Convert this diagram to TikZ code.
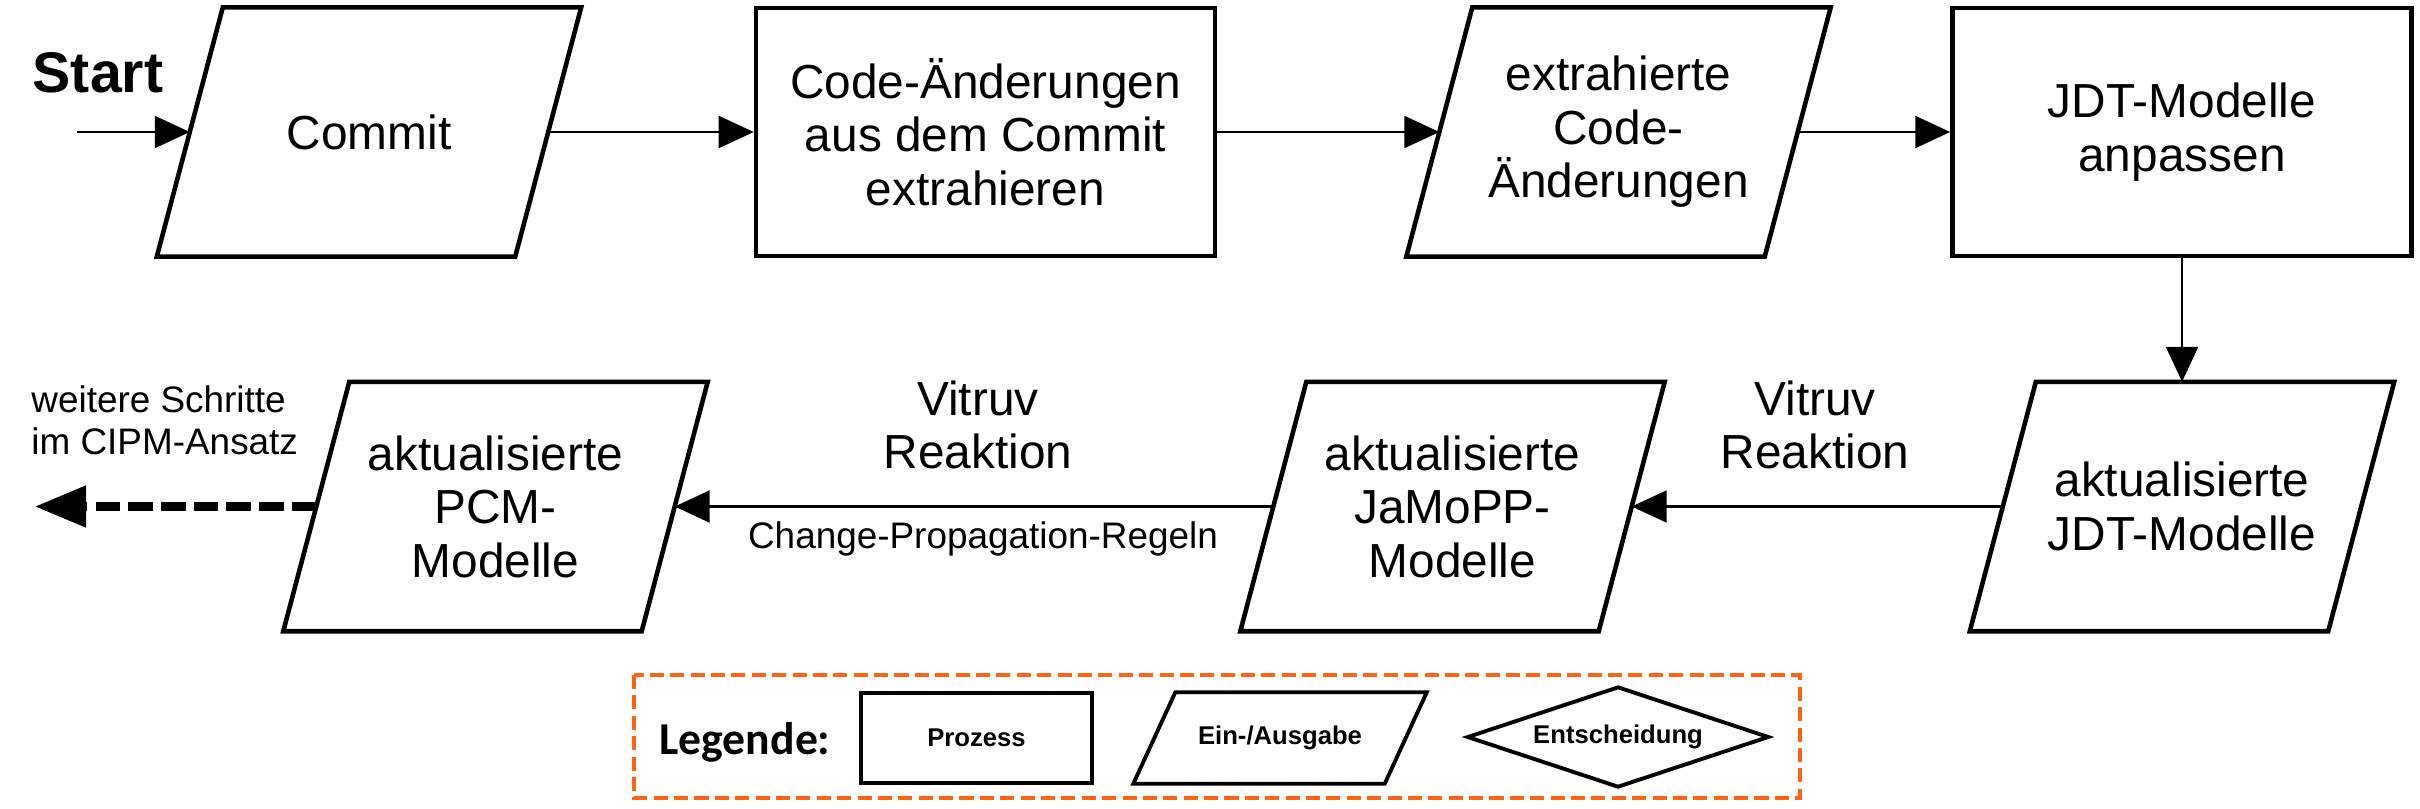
\documentclass[tikz,border=0pt]{standalone}
\usepackage{fontspec}
\setmainfont{Liberation Sans}
\newfontfamily\legfont{Carlito}
\usetikzlibrary{shapes.geometric,arrows.meta}
\definecolor{legorange}{RGB}{255,98,16}

\begin{document}
\begin{tikzpicture}[
    font=\fontsize{13.6}{15.2}\selectfont,
    prozess/.style={draw, line width=1.3pt, minimum width=4.59cm, minimum height=2.48cm, align=center},
    % Parallelogramm um einen Rechteckknoten, #1 = halber Versatz
    schraeg/.style 2 args={append after command={\pgfextra{%
        \draw[line width=#2] ([xshift=-#1]\tikzlastnode.south west) -- ([xshift=#1]\tikzlastnode.north west)
            -- ([xshift=#1]\tikzlastnode.north east) -- ([xshift=-#1]\tikzlastnode.south east) -- cycle;}}},
    daten/.style={minimum width=3.57cm, minimum height=2.48cm, align=center, schraeg={3.3mm}{1.3pt}},
    pfeil/.style={line width=0.6pt, -{Triangle[length=0.35cm,width=0.32cm]}},
    weiterpfeil/.style={line width=2.3pt, dash pattern=on 7pt off 2.3pt, -{Triangle[length=0.51cm,width=0.40cm]}},
    klein/.style={font=\fontsize{10.5}{12}\selectfont},
    legtext/.style={font=\fontsize{7.3}{8}\selectfont\bfseries}
]
\useasboundingbox (0,0) rectangle (24.20,-8.08);

% obere Reihe
\node[font=\fontsize{16.3}{18}\selectfont\bfseries] (start) at (0.98,-0.73) {Start};
\coordinate (eingang) at (0.77,-1.32);
\node[daten] (commit) at (3.69,-1.32) {Commit};
\node[prozess] (extrahieren) at (9.855,-1.32) {Code-Änderungen\\aus dem Commit\\extrahieren};
\node[daten] (aenderungen) at (16.185,-1.32) {extrahierte\\Code-\\Änderungen};
\node[prozess] (anpassen) at (21.82,-1.32) {JDT-Modelle\\anpassen};

% untere Reihe
\node[daten] (jdt) at (21.82,-5.065) {aktualisierte\\JDT-Modelle};
\node[daten] (jamopp) at (14.525,-5.065) {aktualisierte\\JaMoPP-\\Modelle};
\node[daten] (pcm) at (4.955,-5.065) {aktualisierte\\PCM-\\Modelle};
\coordinate (weiterziel) at (0.35,-5.065);

\draw[pfeil] (eingang) -- (commit);
\draw[pfeil] (commit) -- (extrahieren);
\draw[pfeil] (extrahieren) -- (aenderungen);
\draw[pfeil] (aenderungen) -- (anpassen);
\draw[pfeil] (anpassen) -- (jdt);
\draw[pfeil] (jdt) -- (jamopp);
\draw[pfeil] (jamopp) -- (pcm);
\draw[weiterpfeil] (pcm) -- (weiterziel);

\node[align=center] (reaktionA) at (9.78,-4.25) {Vitruv\\Reaktion};
\node[align=center] (reaktionB) at (18.15,-4.25) {Vitruv\\Reaktion};
\node[klein] (regeln) at (9.83,-5.39) {Change-Propagation-Regeln};
\node[klein, align=left, anchor=west] (weiter) at (0.19,-4.20) {weitere Schritte\\im CIPM-Ansatz};

% Legende
\draw[legorange, line width=1.1pt, dash pattern=on 4pt off 1.8pt] (6.34,-6.75) rectangle (18.00,-7.98);
\node[font=\legfont\fontsize{13}{15}\selectfont\bfseries] (legtitel) at (7.45,-7.42) {Legende:};
\node[draw, line width=1.1pt, minimum width=2.31cm, minimum height=0.90cm, legtext] (legprozess) at (9.765,-7.38) {Prozess};
\node[minimum width=2.50cm, minimum height=0.90cm, schraeg={2.1mm}{1.1pt}, legtext] (legdaten) at (12.80,-7.38) {Ein-/Ausgabe};
\node[draw, diamond, aspect=3, inner sep=0pt, line width=1.1pt, minimum width=3.02cm, minimum height=1.01cm, legtext] (legentscheidung) at (16.18,-7.37) {Entscheidung};
\end{tikzpicture}
\end{document}
